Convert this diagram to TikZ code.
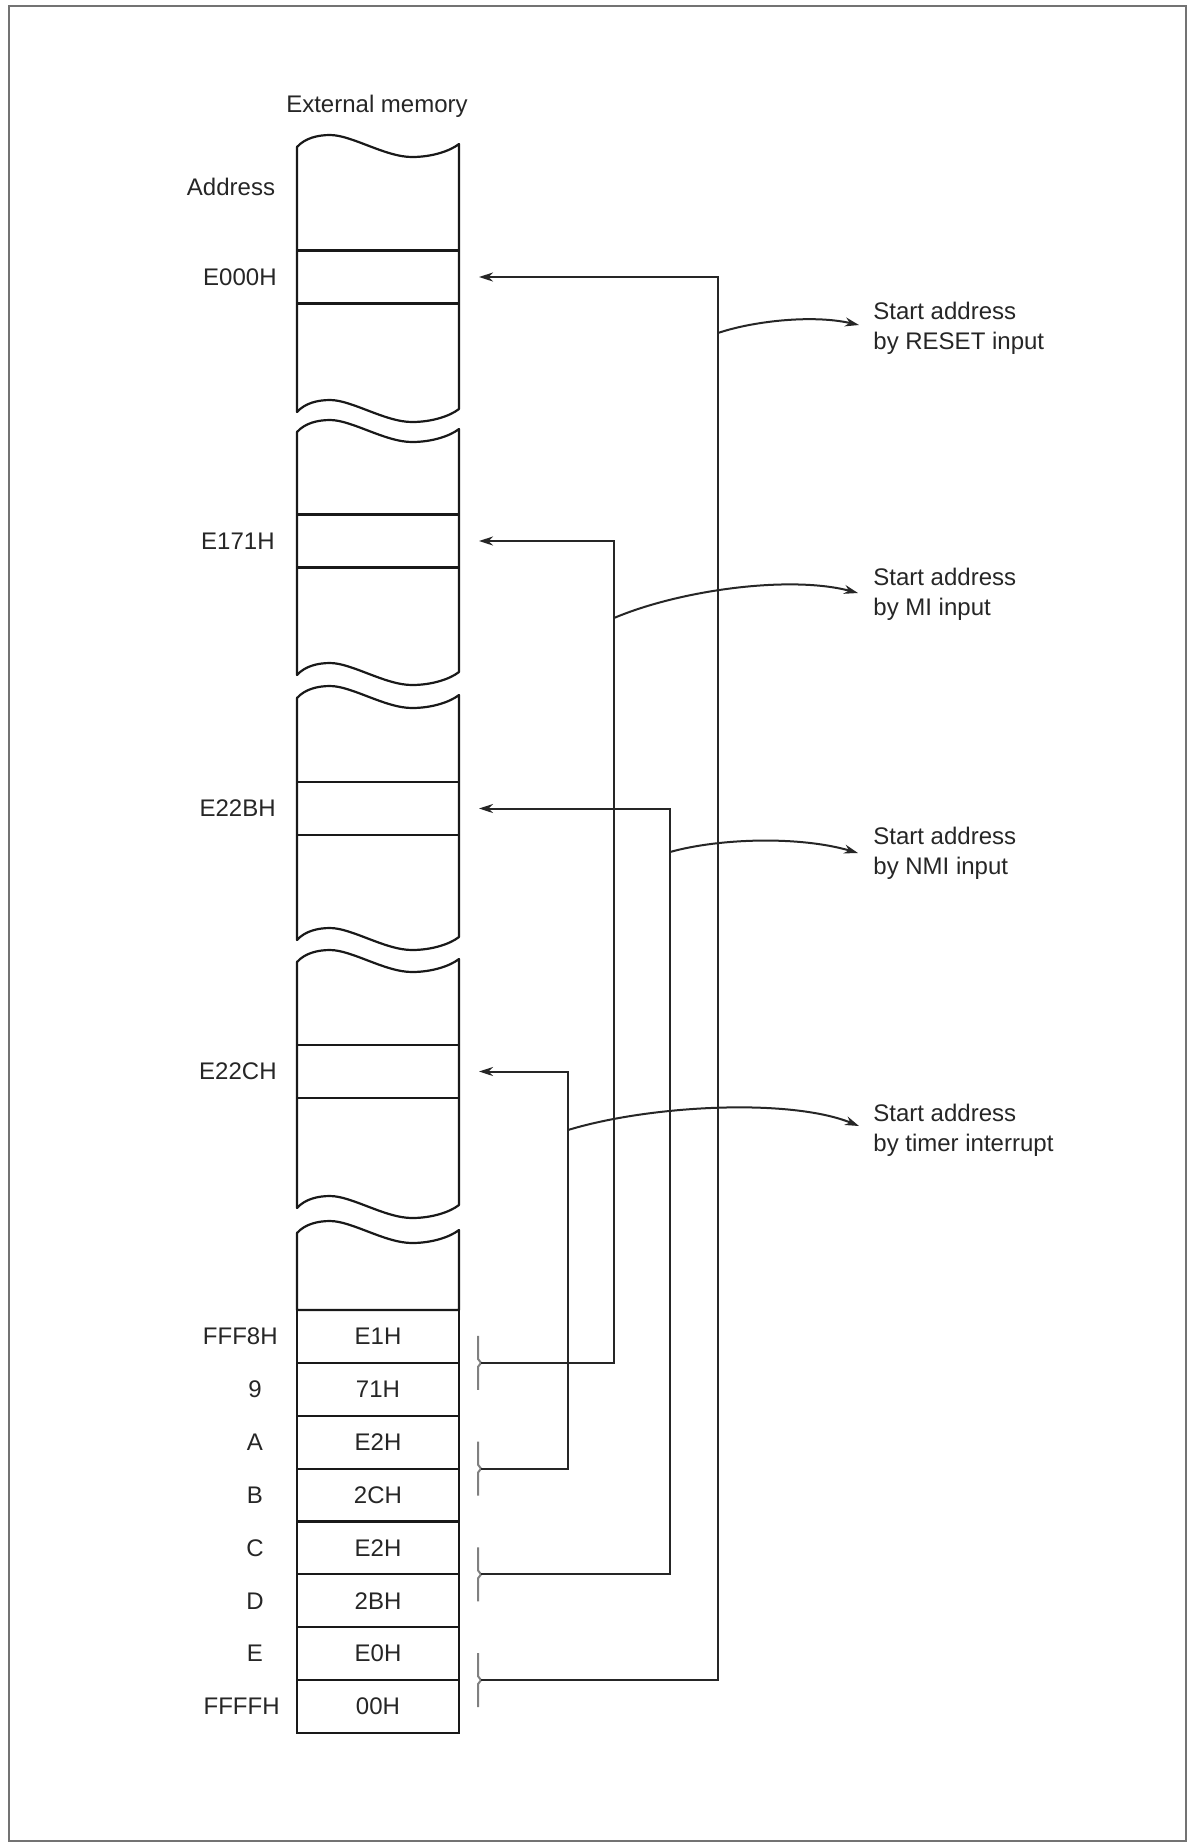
\documentclass[tikz,border=0pt]{standalone}
\usepackage{fontspec}
\setmainfont{Liberation Sans}
\usetikzlibrary{arrows.meta}
\begin{document}
\begin{tikzpicture}[x=0.5pt,y=-0.5pt,
  mem/.style={draw=black!90, line width=1.1pt, line join=round},
  slot/.style={draw=black!90, line width=1.1pt, minimum width=81pt, minimum height=26.5pt, inner sep=0pt, outer sep=0pt},
  cell/.style={slot, minimum height=26.44pt, font=\fontsize{12}{14}\selectfont, text=black!85},
  lbl/.style={font=\fontsize{12}{14}\selectfont, text=black!85, inner sep=0pt},
  conn/.style={draw=black!85, line width=1pt},
  arrowtip/.style={-{Stealth[length=7pt,width=4.5pt]}},
  brk/.style={draw=black!50, line width=1pt},
  startnote/.style={lbl, align=left, anchor=west, font=\fontsize{12}{15}\selectfont},
]
\useasboundingbox (0,0) rectangle (1196,1844);
\fill[white] (0,0) rectangle (1196,1844);
\draw[black!55, line width=1pt] (9,6) rectangle (1186,1841);

% title and header
\node[lbl] (title) at (377,106) {External memory};
\node[lbl] (addr) at (231,187) {Address};

% wavy memory sections
\foreach \ya/\yb in {147/412, 432/675, 698/940, 962/1208} {
  \draw[mem] (297,\ya) .. controls (305,\ya-9) and (318,\ya-12) .. (330,\ya-12)
    .. controls (352,\ya-12) and (385,\ya+10) .. (412,\ya+10)
    .. controls (432,\ya+10) and (450,\ya+4) .. (459,\ya-3)
    -- (459,\yb-3)
    .. controls (450,\yb+4) and (432,\yb+10) .. (412,\yb+10)
    .. controls (385,\yb+10) and (352,\yb-12) .. (330,\yb-12)
    .. controls (318,\yb-12) and (305,\yb-9) .. (297,\yb) -- cycle;
}
\draw[mem] (297,1233) .. controls (305,1224) and (318,1221) .. (330,1221)
    .. controls (352,1221) and (385,1243) .. (412,1243)
    .. controls (432,1243) and (450,1237) .. (459,1230)
    -- (459,1310) -- (297,1310) -- cycle;

% highlighted addresses
\node[slot] (s1) at (378,277) {};
\node[slot] (s2) at (378,541) {};
\node[slot] (s3) at (378,808.5) {};
\node[slot] (s4) at (378,1071.5) {};
\node[lbl, anchor=east] (lE000) at (277,277) {E000H};
\node[lbl, anchor=east] (lE171) at (275,541) {E171H};
\node[lbl, anchor=east] (lE22B) at (276,808.5) {E22BH};
\node[lbl, anchor=east] (lE22C) at (277,1071.5) {E22CH};

% vector cells
\foreach \v [count=\k] in {E1H,71H,E2H,2CH,E2H,2BH,E0H,00H}
  \node[cell] (c\k) at (378,1310+52.875*\k-26.4375) {\v};
\node[lbl, anchor=east] (aFFF8) at (278,1336.4) {FFF8H};
\node[lbl] (a9) at (255,1389.3) {9};
\node[lbl] (aA) at (255,1442.2) {A};
\node[lbl] (aB) at (255,1495.1) {B};
\node[lbl] (aC) at (255,1547.9) {C};
\node[lbl] (aD) at (255,1600.8) {D};
\node[lbl] (aE) at (255,1653.7) {E};
\node[lbl, anchor=east] (aFFFF) at (280,1706.6) {FFFFH};

% brackets on vector pairs
\foreach \k/\n in {1/1,3/2,5/3,7/4} {
  \draw[brk] ([shift={(19,-27)}]c\k.south east) -- ([shift={(19,-4)}]c\k.south east)
     -- ([shift={(22,0)}]c\k.south east) -- ([shift={(19,4)}]c\k.south east)
     -- ([shift={(19,27)}]c\k.south east);
  \coordinate (b\n) at ([shift={(22,0)}]c\k.south east);
}

% arrow targets
\coordinate (aR) at ([xshift=10pt]s1.east);
\coordinate (aM) at ([xshift=10pt]s2.east);
\coordinate (aN) at ([xshift=10pt]s3.east);
\coordinate (aT) at ([xshift=10pt]s4.east);
\coordinate (kR) at (718,277);
\coordinate (kM) at (614,541);
\coordinate (kN) at (670,808.5);
\coordinate (kT) at (568,1071.5);

\draw[conn,arrowtip] (b4) -| (kR) -- (aR);
\draw[conn,arrowtip] (b1) -| (kM) -- (aM);
\draw[conn,arrowtip] (b3) -| (kN) -- (aN);
\draw[conn,arrowtip] (b2) -| (kT) -- (aT);

% explanation notes
\node[startnote] (tR) at (873,328) {Start address\\by RESET input};
\node[startnote] (tM) at (873,594) {Start address\\by MI input};
\node[startnote] (tN) at (873,853) {Start address\\by NMI input};
\node[startnote] (tT) at (873,1130) {Start address\\by timer interrupt};

\coordinate (oR) at (718,333);
\coordinate (oM) at (614,618);
\coordinate (oN) at (670,852);
\coordinate (oT) at (568,1130);

\draw[conn,arrowtip] (oR) .. controls (750,322) and (810,314) .. ([shift={(-14,-3)}]tR.west);
\draw[conn,arrowtip] (oM) .. controls (680,590) and (790,575) .. ([shift={(-15,-1)}]tM.west);
\draw[conn,arrowtip] (oN) .. controls (720,838) and (800,836) .. ([shift={(-15,0)}]tN.west);
\draw[conn,arrowtip] (oT) .. controls (650,1105) and (790,1098) .. ([shift={(-14,-4)}]tT.west);
\end{tikzpicture}
\end{document}
